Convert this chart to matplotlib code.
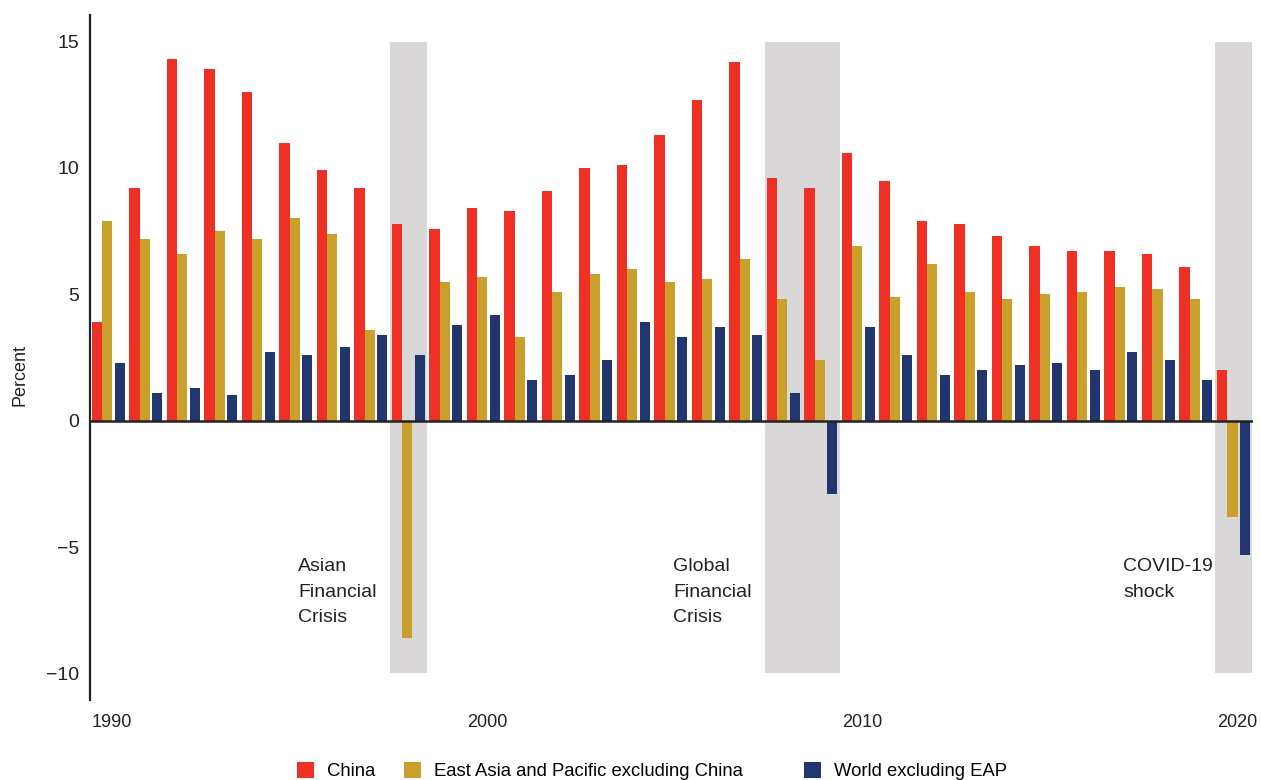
import matplotlib
matplotlib.use('Agg')
import matplotlib.pyplot as plt
import matplotlib.patches as patches
import numpy as np

plt.rcParams['font.family'] = ['Liberation Sans', 'DejaVu Sans']

years = np.arange(1990, 2021)

china = [3.9, 9.2, 14.3, 13.9, 13.0, 11.0, 9.9, 9.2, 7.8, 7.6,
         8.4, 8.3, 9.1, 10.0, 10.1, 11.3, 12.7, 14.2, 9.6, 9.2,
         10.6, 9.5, 7.9, 7.8, 7.3, 6.9, 6.7, 6.7, 6.6, 6.1,
         2.0]
eap_ex_china = [7.9, 7.2, 6.6, 7.5, 7.2, 8.0, 7.4, 3.6, -8.6, 5.5,
                5.7, 3.3, 5.1, 5.8, 6.0, 5.5, 5.6, 6.4, 4.8, 2.4,
                6.9, 4.9, 6.2, 5.1, 4.8, 5.0, 5.1, 5.3, 5.2, 4.8,
                -3.8]
world_ex_eap = [2.3, 1.1, 1.3, 1.0, 2.7, 2.6, 2.9, 3.4, 2.6, 3.8,
                4.2, 1.6, 1.8, 2.4, 3.9, 3.3, 3.7, 3.4, 1.1, -2.9,
                3.7, 2.6, 1.8, 2.0, 2.2, 2.3, 2.0, 2.7, 2.4, 1.6,
                -5.3]

series_names = ['China', 'East Asia and Pacific excluding China', 'World excluding EAP']

# crisis periods (start year, end year) and their labels
crisis_spans = [(1998, 1998), (2008, 2009), (2020, 2020)]
crisis_labels = ['Asian\nFinancial\nCrisis', 'Global\nFinancial\nCrisis', 'COVID-19\nshock']
label_years = [1995.5, 2005.5, 2017.5]

RED = '#EE3124'
GOLD = '#C9A02C'
NAVY = '#21366E'
SHADE = '#D9D7D8'
INK = '#222222'

fig = plt.figure(figsize=(12.61, 7.80), dpi=100)
ax = fig.add_axes([90 / 1261, 1 - 700 / 780, (1253 - 90) / 1261, 685 / 780])

# shaded crisis bands
for (y0, y1) in crisis_spans:
    ax.add_patch(patches.Rectangle((y0 - 0.06, -10), y1 - y0 + 1.0, 25,
                                   facecolor=SHADE, edgecolor='none', zorder=0))

w = 0.275
b1 = ax.bar(years, china, width=w, align='edge', color=RED, zorder=2)
b2 = ax.bar(years + 0.272, eap_ex_china, width=w, align='edge', color=GOLD, zorder=2)
b3 = ax.bar(years + 0.605, world_ex_eap, width=w, align='edge', color=NAVY, zorder=2)

ax.axhline(0, color=INK, linewidth=1.8, zorder=3)

for x, txt in zip(label_years, crisis_labels):
    ax.text(x, -5.45, txt, fontsize=14, va='top', ha='left',
            linespacing=1.65, color=INK)

ax.set_xlim(1989.95, 2020.96)
ax.set_ylim(-11.05, 16.05)
ax.set_yticks([-10, -5, 0, 5, 10, 15])
ax.set_xticks([1990, 2000, 2010, 2020])
for lbl in ax.get_xticklabels():
    lbl.set_ha('left')
ax.tick_params(axis='both', length=0, colors=INK)
ax.tick_params(axis='y', pad=8, labelsize=14)
ax.tick_params(axis='x', pad=10, labelsize=13)

for side in ['top', 'right', 'bottom']:
    ax.spines[side].set_visible(False)
ax.spines['left'].set_linewidth(1.6)
ax.spines['left'].set_color(INK)

fig.text(0.016, 1 - 375 / 780, 'Percent', rotation=90, va='center', ha='center',
         fontsize=13, color=INK)

# legend entries placed one by one to match the uneven spacing
legend_x = [297, 404, 804]
for h, name, x in zip([b1, b2, b3], series_names, legend_x):
    fig.legend([h], [name], loc='center left', bbox_to_anchor=(x / 1261, 0.011),
               frameon=False, fontsize=13.3, handlelength=0.9, handleheight=0.9,
               handletextpad=0.75, borderpad=0, borderaxespad=0)

plt.savefig('out.png', dpi=100)
plt.close()
